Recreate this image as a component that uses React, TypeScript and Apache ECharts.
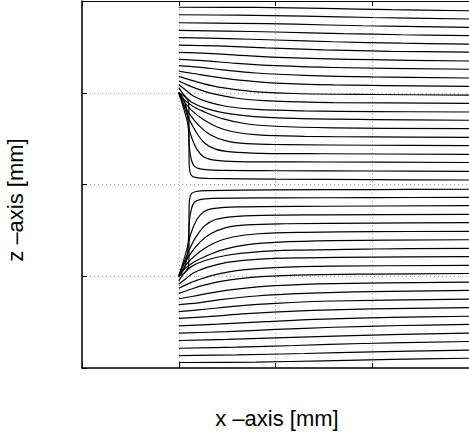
import React, { useEffect, useRef } from "react";
import * as echarts from "echarts";

// x range (mm) and tick interval, z range (mm)
const xRange = [0, 4];
const zRange = [-2, 2];
const tickStep = 1;

const xLabel = "x –axis [mm]";
const zLabel = "z –axis [mm]";

// Field lines, upper half: [x, z] points
const u01 = [[1, 1.932], [1.8, 1.93], [2.5, 1.92], [3.2, 1.905], [4, 1.894]];
const u02 = [[1, 1.85], [1.6, 1.845], [2.3, 1.835], [3, 1.82], [4, 1.804]];
const u03 = [[1, 1.763], [1.6, 1.757], [2.2, 1.747], [2.9, 1.73], [4, 1.713]];
const u04 = [[1, 1.679], [1.5, 1.672], [2, 1.662], [2.7, 1.645], [3.3, 1.632], [4, 1.622]];
const u05 = [[1, 1.6], [1.5, 1.59], [2, 1.575], [2.6, 1.556], [3.3, 1.54], [4, 1.531]];
const u06 = [[1, 1.52], [1.4, 1.51], [1.9, 1.49], [2.5, 1.468], [3.2, 1.452], [4, 1.442]];
const u07 = [[1, 1.44], [1.3, 1.43], [1.7, 1.405], [2.2, 1.38], [3, 1.36], [4, 1.346]];
const u08 = [[1, 1.364], [1.25, 1.35], [1.6, 1.32], [2, 1.295], [2.6, 1.275], [4, 1.256]];
const u09 = [[1, 1.296], [1.2, 1.28], [1.45, 1.25], [1.8, 1.215], [2.3, 1.19], [3, 1.172], [4, 1.161]];
const u10 = [[1, 1.234], [1.15, 1.21], [1.35, 1.175], [1.6, 1.14], [2, 1.105], [2.6, 1.085], [4, 1.07]];
const u11 = [[1, 1.179], [1.1, 1.145], [1.25, 1.1], [1.45, 1.055], [1.75, 1.015], [2.2, 0.992], [3, 0.981], [4, 0.975]];
const u12 = [[1, 1.128], [1.1, 1.08], [1.2, 1.04], [1.35, 0.99], [1.6, 0.94], [2, 0.908], [2.6, 0.893], [4, 0.885]];
const u13 = [[1, 1.089], [1.07, 1.03], [1.15, 0.965], [1.3, 0.9], [1.5, 0.85], [1.8, 0.818], [2.3, 0.802], [3, 0.795], [4, 0.79]];
const u14 = [[1, 1.056], [1.05, 0.98], [1.13, 0.9], [1.28, 0.83], [1.5, 0.775], [1.78, 0.74], [2.2, 0.72], [3, 0.708], [4, 0.7]];
const u15 = [[1, 1], [1.05, 0.93], [1.15, 0.85], [1.29, 0.78], [1.46, 0.715], [1.68, 0.665], [2, 0.635], [2.6, 0.618], [4, 0.608]];
const u16 = [[1, 1], [1.05, 0.91], [1.13, 0.81], [1.25, 0.71], [1.39, 0.63], [1.56, 0.575], [1.82, 0.54], [2.3, 0.525], [3, 0.518], [4, 0.514]];
const u17 = [[1, 1], [1.04, 0.9], [1.11, 0.77], [1.22, 0.63], [1.33, 0.54], [1.49, 0.475], [1.7, 0.445], [2.1, 0.435], [3, 0.428], [4, 0.423]];
const u18 = [[1, 1], [1.04, 0.89], [1.1, 0.73], [1.18, 0.57], [1.27, 0.45], [1.38, 0.385], [1.54, 0.355], [1.85, 0.34], [2.5, 0.335], [4, 0.329]];
const u19 = [[1, 1], [1.03, 0.9], [1.08, 0.72], [1.13, 0.52], [1.19, 0.38], [1.26, 0.3], [1.37, 0.265], [1.6, 0.25], [2.5, 0.245], [4, 0.24]];
const u20 = [[1, 1], [1.05, 0.93], [1.085, 0.8], [1.1, 0.6], [1.11, 0.4], [1.13, 0.27], [1.16, 0.2], [1.22, 0.17], [1.35, 0.157], [2, 0.15], [3, 0.147], [4, 0.144]];
const u21 = [[1, 1], [1.06, 0.96], [1.1, 0.9], [1.106, 0.7], [1.106, 0.35], [1.11, 0.18], [1.13, 0.1], [1.18, 0.075], [1.3, 0.066], [2, 0.058], [3, 0.053], [4, 0.049]];

// Field lines, lower half
const l01 = [[1, -1.94], [1.8, -1.935], [2.5, -1.922], [3.2, -1.906], [4, -1.894]];
const l02 = [[1, -1.865], [1.6, -1.857], [2.3, -1.842], [3, -1.824], [4, -1.806]];
const l03 = [[1, -1.785], [1.6, -1.772], [2.2, -1.755], [2.9, -1.733], [4, -1.711]];
const l04 = [[1, -1.7], [1.5, -1.688], [2, -1.672], [2.7, -1.65], [3.3, -1.633], [4, -1.62]];
const l05 = [[1, -1.62], [1.5, -1.603], [2, -1.58], [2.6, -1.556], [3.3, -1.537], [4, -1.525]];
const l06 = [[1, -1.54], [1.4, -1.522], [1.9, -1.495], [2.5, -1.468], [3.2, -1.449], [4, -1.436]];
const l07 = [[1, -1.46], [1.3, -1.44], [1.7, -1.408], [2.2, -1.38], [3, -1.356], [4, -1.341]];
const l08 = [[1, -1.385], [1.25, -1.362], [1.6, -1.325], [2, -1.295], [2.6, -1.27], [4, -1.25]];
const l09 = [[1, -1.31], [1.2, -1.29], [1.45, -1.253], [1.8, -1.215], [2.3, -1.187], [3, -1.167], [4, -1.155]];
const l10 = [[1, -1.245], [1.15, -1.218], [1.35, -1.178], [1.6, -1.14], [2, -1.103], [2.6, -1.08], [4, -1.065]];
const l11 = [[1, -1.186], [1.1, -1.15], [1.25, -1.1], [1.45, -1.053], [1.75, -1.012], [2.2, -0.988], [3, -0.976], [4, -0.97]];
const l12 = [[1, -1.131], [1.1, -1.08], [1.2, -1.04], [1.35, -0.99], [1.6, -0.938], [2, -0.905], [2.6, -0.89], [4, -0.882]];
const l13 = [[1, -1.088], [1.07, -1.03], [1.15, -0.965], [1.3, -0.9], [1.5, -0.848], [1.8, -0.815], [2.3, -0.799], [3, -0.792], [4, -0.787]];
const l14 = [[1, -1.05], [1.05, -0.975], [1.13, -0.895], [1.28, -0.826], [1.5, -0.771], [1.78, -0.736], [2.2, -0.716], [3, -0.703], [4, -0.696]];
const l15 = [[1, -1], [1.05, -0.93], [1.15, -0.85], [1.29, -0.776], [1.46, -0.71], [1.68, -0.66], [2, -0.63], [2.6, -0.612], [4, -0.602]];
const l16 = [[1, -1], [1.05, -0.91], [1.13, -0.81], [1.25, -0.708], [1.39, -0.627], [1.56, -0.572], [1.82, -0.537], [2.3, -0.521], [3, -0.514], [4, -0.51]];
const l17 = [[1, -1], [1.04, -0.9], [1.11, -0.77], [1.22, -0.628], [1.33, -0.537], [1.49, -0.47], [1.7, -0.44], [2.1, -0.428], [3, -0.421], [4, -0.416]];
const l18 = [[1, -1], [1.04, -0.89], [1.1, -0.73], [1.18, -0.568], [1.27, -0.448], [1.38, -0.382], [1.54, -0.352], [1.85, -0.336], [2.5, -0.331], [4, -0.325]];
const l19 = [[1, -1], [1.03, -0.9], [1.08, -0.72], [1.13, -0.52], [1.19, -0.376], [1.26, -0.296], [1.37, -0.26], [1.6, -0.243], [2.5, -0.237], [4, -0.231]];
const l20 = [[1, -1], [1.05, -0.93], [1.085, -0.8], [1.1, -0.6], [1.11, -0.4], [1.13, -0.27], [1.16, -0.196], [1.22, -0.165], [1.35, -0.152], [2, -0.146], [3, -0.143], [4, -0.14]];
const l21 = [[1, -1], [1.06, -0.96], [1.1, -0.9], [1.106, -0.7], [1.106, -0.35], [1.11, -0.18], [1.13, -0.1], [1.18, -0.076], [1.3, -0.067], [2, -0.059], [3, -0.055], [4, -0.052]];

const upperLines = [u01, u02, u03, u04, u05, u06, u07, u08, u09, u10, u11, u12, u13, u14, u15, u16, u17, u18, u19, u20, u21];
const lowerLines = [l01, l02, l03, l04, l05, l06, l07, l08, l09, l10, l11, l12, l13, l14, l15, l16, l17, l18, l19, l20, l21];

export default function App() {
  const ref = useRef<HTMLDivElement>(null);

  useEffect(() => {
    if (!ref.current) return;
    const chart = echarts.init(ref.current, null, { renderer: "svg" });
    const font = "Liberation Sans, Arial, Helvetica, sans-serif";
    const dotted = { color: "#a0a0a0", width: 1, type: [1, 3] as number[] };
    const tick = { show: true, inside: true, length: 5, lineStyle: { color: "#000", width: 1 } };

    const series = [...upperLines, ...lowerLines].map((pts) => ({
      type: "line" as const,
      data: pts,
      xAxisIndex: 0,
      yAxisIndex: 0,
      showSymbol: false,
      symbol: "none",
      smooth: 0.35,
      silent: true,
      clip: true,
      lineStyle: { color: "#000", width: 1.2 },
    }));

    chart.setOption({
      animation: false,
      backgroundColor: "#fff",
      grid: { left: 82, top: 1, width: 390, height: 367, show: false },
      xAxis: [
        {
          type: "value",
          min: xRange[0],
          max: xRange[1],
          interval: tickStep,
          position: "bottom",
          axisLine: { show: true, onZero: false, lineStyle: { color: "#000", width: 1.5 } },
          axisTick: tick,
          axisLabel: { show: false },
          splitLine: { show: true, lineStyle: dotted },
        },
        {
          type: "value",
          min: xRange[0],
          max: xRange[1],
          interval: tickStep,
          position: "top",
          axisLine: { show: true, onZero: false, lineStyle: { color: "#000", width: 1 } },
          axisTick: tick,
          axisLabel: { show: false },
          splitLine: { show: false },
        },
      ],
      yAxis: [
        {
          type: "value",
          min: zRange[0],
          max: zRange[1],
          interval: tickStep,
          position: "left",
          axisLine: { show: true, onZero: false, lineStyle: { color: "#000", width: 1.5 } },
          axisTick: tick,
          axisLabel: { show: false },
          splitLine: { show: true, lineStyle: dotted },
        },
      ],
      graphic: [
        {
          type: "text",
          x: 277,
          y: 418,
          style: {
            text: xLabel,
            font: `22px ${font}`,
            fill: "#000",
            textAlign: "center",
            textVerticalAlign: "middle",
          },
        },
        {
          type: "text",
          x: 15,
          y: 200,
          rotation: Math.PI / 2,
          style: {
            text: zLabel,
            font: `22px ${font}`,
            fill: "#000",
            textAlign: "center",
            textVerticalAlign: "middle",
          },
        },
      ],
      series,
    });

    return () => chart.dispose();
  }, []);

  return (
    <div
      ref={ref}
      style={{ position: "absolute", left: 0, top: 0, width: 469, height: 432, background: "#fff" }}
    />
  );
}
